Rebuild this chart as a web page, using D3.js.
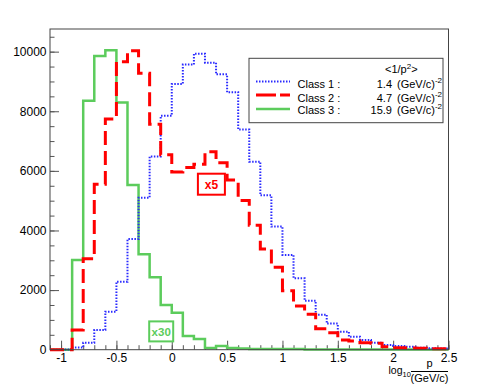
<!DOCTYPE html>
<html>
<head>
<meta charset="utf-8">
<script src="https://cdn.jsdelivr.net/npm/d3@7"></script>
<style>
  body { margin: 0; background: #fff; }
  svg { font-family: "Liberation Sans", Arial, Helvetica, sans-serif; }
</style>
</head>
<body>
<div id="chart"></div>
<script>
// bin lower edges, width 0.1, from -1.1 to 2.5
const binLow = d3.range(36).map(i => Math.round((-1.1 + i * 0.1) * 10) / 10);
const binWidth = 0.1;

// Class 1 (blue dotted)
const class1 = [10, 10, 70, 235, 660, 1275, 2280, 3710, 5100, 6480, 7850, 8915,
  9565, 9930, 9630, 9240, 8640, 7385, 6310, 5180, 4130, 3180, 2400, 1644,
  1175, 875, 604, 436, 325, 235, 158, 124, 100, 67, 50, 40];

// Class 2 (red dashed, scaled x5)
const class2 = [0, 0, 660, 3050, 5550, 7740, 9665, 10030, 9275, 7565, 6545, 5960,
  6110, 6220, 6645, 6275, 5695, 5010, 4174, 3380, 2765, 1980, 1466, 1188,
  705, 570, 325, 290, 235, 215, 100, 67, 60, 50, 35, 35];

// Class 3 (green solid, scaled x30)
const class3 = [0, 0, 3010, 8350, 9850, 10050, 8290, 5530, 3200, 2430, 1500, 1240,
  460, 360, 60, 120, 60, 40, 20, 20, 20, 20, 20, 10,
  10, 10, 10, 10, 10, 10, 10, 10, 10, 10, 10, 10];

const xTicks = [-1, -0.5, 0, 0.5, 1, 1.5, 2, 2.5];
const yTicks = [0, 2000, 4000, 6000, 8000, 10000];

const legendRows = [
  {name: "Class 1 :", value: "1.4"},
  {name: "Class 2 :", value: "4.7"},
  {name: "Class 3 :", value: "15.9"}
];

const width = 498, height = 389;
const frame = {left: 50, right: 448.5, top: 29, bottom: 349.7};

const svg = d3.select("#chart").append("svg")
  .attr("width", width)
  .attr("height", height);

const x = d3.scaleLinear().domain([-1.1, 2.5]).range([frame.left, frame.right]);
const y = d3.scaleLinear().domain([0, 10760]).range([frame.bottom, frame.top]);

// axes (ticks pointing inward, ROOT style)
const xAxis = svg.append("g")
  .attr("transform", "translate(0," + frame.bottom + ")")
  .call(d3.axisBottom(x).tickValues(xTicks).tickSize(-9).tickPadding(3.5)
    .tickFormat(d => String(d)));
const xMinor = svg.append("g")
  .attr("transform", "translate(0," + frame.bottom + ")")
  .call(d3.axisBottom(x).tickValues(d3.range(-11, 26).map(i => i / 10)).tickSize(-4.5)
    .tickFormat(""));

const yAxis = svg.append("g")
  .attr("transform", "translate(" + frame.left + ",0)")
  .call(d3.axisLeft(y).tickValues(yTicks).tickSize(-9).tickPadding(3.5)
    .tickFormat(d => String(d)));
const yMinor = svg.append("g")
  .attr("transform", "translate(" + frame.left + ",0)")
  .call(d3.axisLeft(y).tickValues(d3.range(0, 10760, 500)).tickSize(-4.5)
    .tickFormat(""));

[xAxis, xMinor, yAxis, yMinor].forEach(g => {
  g.select(".domain").remove();
  g.selectAll("line").attr("stroke", "#555");
  g.selectAll("text").attr("font-size", 12).attr("fill", "#000")
    .attr("font-family", "Liberation Sans, Arial, sans-serif");
});

// histogram step lines
function stepPoints(values) {
  const pts = values.map((v, i) => [binLow[i], v]);
  pts.push([binLow[binLow.length - 1] + binWidth, values[values.length - 1]]);
  return pts;
}
const line = d3.line()
  .x(d => x(d[0]))
  .y(d => y(d[0] < -1.05 ? 0 : d[1]))
  .curve(d3.curveStepAfter);

const series = [
  {data: class3, color: "#5ccc5c", width: 2.5, dash: null},
  {data: class1, color: "#2a2aff", width: 2, dash: "1.5,1.5"},
  {data: class2, color: "#ff0000", width: 3, dash: "14,6"}
];
series.forEach(s => {
  svg.append("path")
    .attr("d", line(stepPoints(s.data)))
    .attr("fill", "none")
    .attr("stroke", s.color)
    .attr("stroke-width", s.width)
    .attr("stroke-dasharray", s.dash);
});

// frame
svg.append("rect")
  .attr("x", frame.left).attr("y", frame.top)
  .attr("width", frame.right - frame.left)
  .attr("height", frame.bottom - frame.top)
  .attr("fill", "none")
  .attr("stroke", "#444")
  .attr("stroke-width", 1);

// scale labels
function scaleLabel(cx, cy, w, h, txt, color, fs) {
  svg.append("rect")
    .attr("x", cx - w / 2).attr("y", cy - h / 2)
    .attr("width", w).attr("height", h)
    .attr("fill", "#fff").attr("stroke", color).attr("stroke-width", 2);
  svg.append("text")
    .attr("x", cx).attr("y", cy)
    .attr("dy", "0.36em")
    .attr("text-anchor", "middle")
    .attr("font-size", fs).attr("font-weight", "bold")
    .attr("fill", color)
    .text(txt);
}
scaleLabel(211.4, 184.2, 27, 21, "x5", "#ff0000", 12);
scaleLabel(161.2, 331.4, 24, 20, "x30", "#5ccc5c", 11.5);

// legend
const leg = svg.append("g");
leg.append("rect")
  .attr("x", 249).attr("y", 58.3)
  .attr("width", 194).attr("height", 64.4)
  .attr("fill", "#fff").attr("stroke", "#444").attr("stroke-width", 1);

const header = leg.append("text")
  .attr("x", 385).attr("y", 73)
  .attr("font-size", 11);
header.append("tspan").text("<1/p");
header.append("tspan").attr("font-size", 8).attr("dy", -4).text("2");
header.append("tspan").attr("dy", 4).text(">");

const rowY = [87.5, 101.5, 114];
const lineY = [81.5, 95, 109];
legendRows.forEach((r, i) => {
  const s = [series[1], series[2], series[0]][i];
  leg.append("line")
    .attr("x1", 256).attr("x2", 290)
    .attr("y1", lineY[i]).attr("y2", lineY[i])
    .attr("stroke", s.color)
    .attr("stroke-width", s.width)
    .attr("stroke-dasharray", s.dash ? (i === 1 ? "20,4" : s.dash) : null);
  leg.append("text")
    .attr("x", 297.5).attr("y", rowY[i])
    .attr("font-size", 11)
    .text(r.name);
  leg.append("text")
    .attr("x", 392).attr("y", rowY[i])
    .attr("text-anchor", "end")
    .attr("font-size", 11)
    .text(r.value);
  const t = leg.append("text")
    .attr("x", 397).attr("y", rowY[i])
    .attr("font-size", 11);
  t.append("tspan").text("(GeV/c)");
  t.append("tspan").attr("font-size", 8).attr("dy", -5).text("-2");
});

// x-axis title: log10 p/(GeV/c)
const xt = svg.append("text")
  .attr("x", 388.5).attr("y", 374)
  .attr("font-size", 10.5);
xt.append("tspan").text("log");
xt.append("tspan").attr("font-size", 7.5).attr("dy", 3).text("10");
svg.append("text")
  .attr("x", 429.5).attr("y", 366.5)
  .attr("text-anchor", "middle")
  .attr("font-size", 11)
  .text("p");
svg.append("line")
  .attr("x1", 411).attr("x2", 448)
  .attr("y1", 371.5).attr("y2", 371.5)
  .attr("stroke", "#000").attr("stroke-width", 1);
svg.append("text")
  .attr("x", 429.5).attr("y", 381.5)
  .attr("text-anchor", "middle")
  .attr("font-size", 11)
  .text("(GeV/c)");
</script>
</body>
</html>
